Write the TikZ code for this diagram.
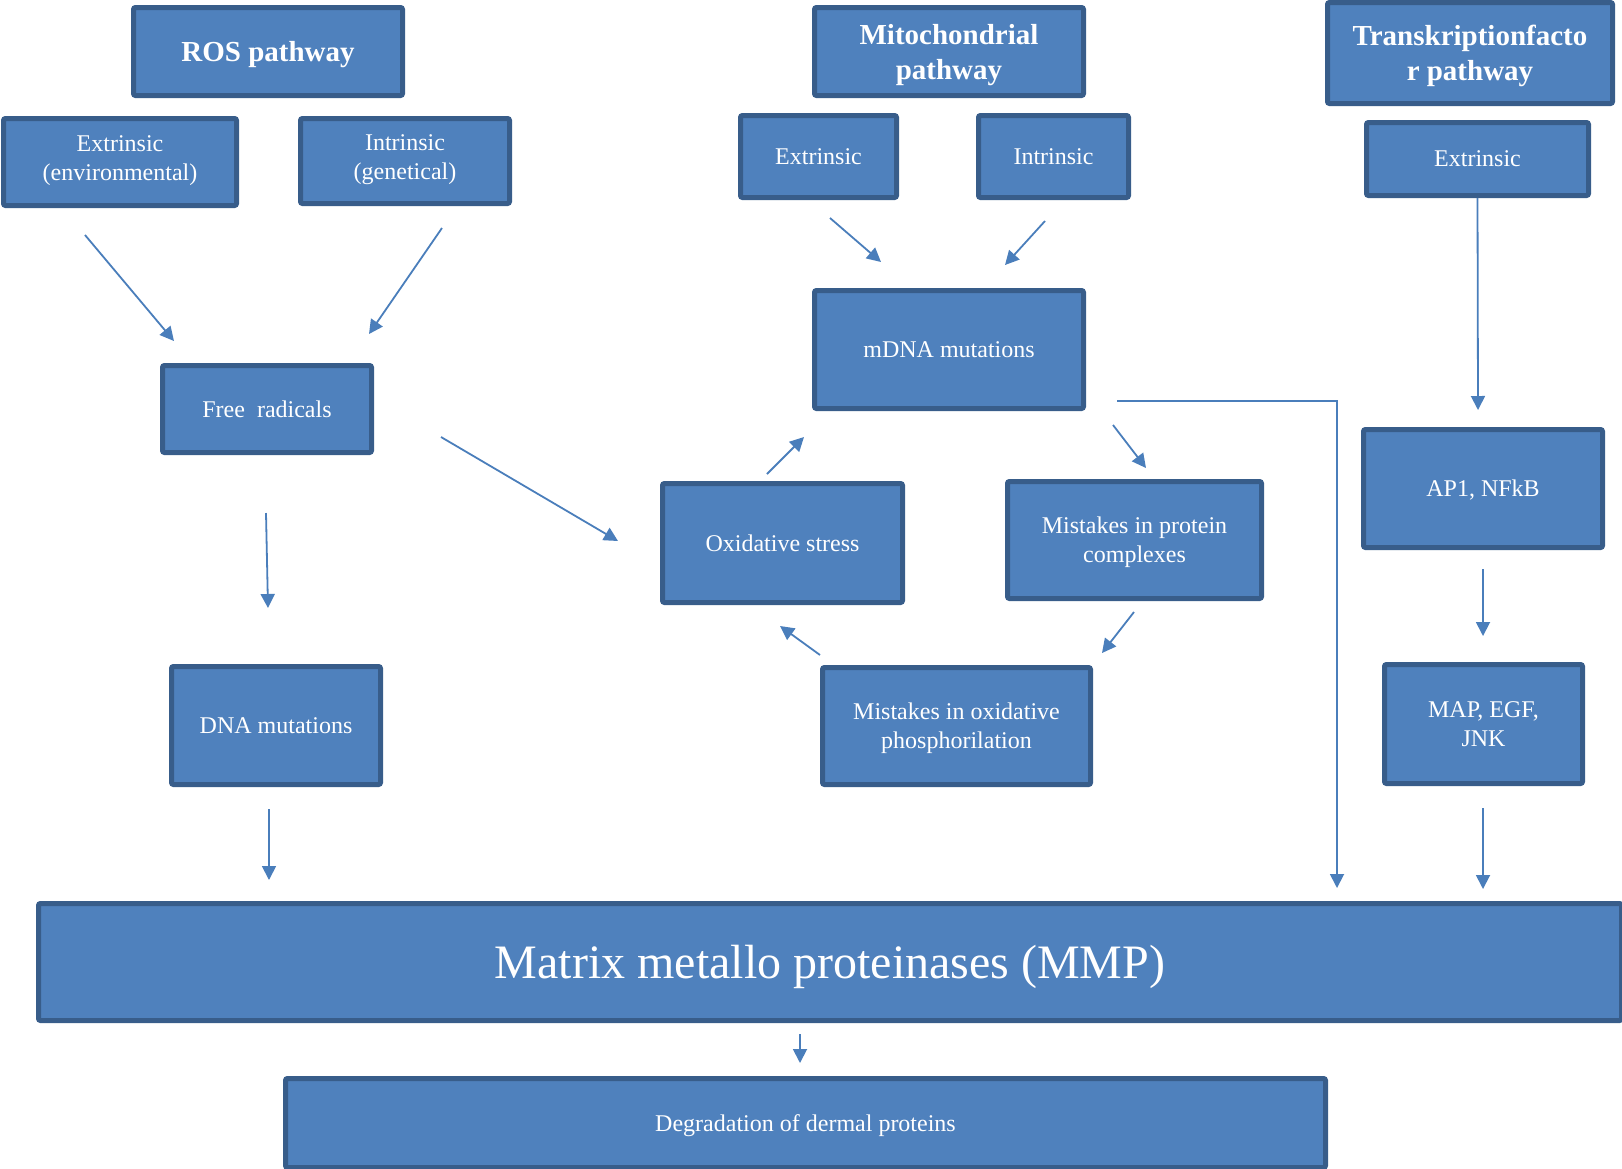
\documentclass[tikz,border=0pt]{standalone}
\usepackage{fontspec}
\setmainfont{Liberation Serif}
\usetikzlibrary{arrows.meta}
\definecolor{boxfill}{HTML}{4F81BD}
\definecolor{boxline}{HTML}{385D8A}
\definecolor{arrc}{HTML}{4A7EBB}
\tikzset{
  pbox/.style={draw=boxline, fill=boxfill, line width=2.5pt, rounded corners=1pt,
    text=white, inner sep=0pt, align=center, text depth=0pt, font=\fontsize{12}{14.5}\selectfont},
  headbox/.style={pbox, font=\fontsize{14.5}{17.5}\selectfont\bfseries},
  arr/.style={draw=arrc, line width=0.9pt, -{Triangle[length=7pt,width=7pt]}}
}
\begin{document}
\begin{tikzpicture}[x=0.5pt, y=-0.5pt]
\useasboundingbox (0,0) rectangle (1622,1168);
\clip (0,0) rectangle (1622,1168);
% headings
\node[headbox, minimum width=134.5pt, minimum height=44pt] (ros) at (268,51.5) {ROS pathway};
\node[headbox, minimum width=134.5pt, minimum height=44pt] (mito) at (949,51.5) {Mitochondrial\\pathway};
\node[headbox, minimum width=142.5pt, minimum height=50.5pt] (tf) at (1470,53) {Transkriptionfacto\\r pathway};
% second row
\node[pbox, text depth=4pt, minimum width=116.5pt, minimum height=43.5pt] (extenv) at (120,162) {Extrinsic\\(environmental)};
\node[pbox, text depth=4pt, minimum width=104.5pt, minimum height=42.5pt] (intgen) at (405,161) {Intrinsic\\(genetical)};
\node[pbox, minimum width=78pt, minimum height=41pt] (extm) at (818.5,156.5) {Extrinsic};
\node[pbox, minimum width=75pt, minimum height=41pt] (intm) at (1053.5,156.5) {Intrinsic};
\node[pbox, minimum width=111pt, minimum height=36.5pt] (exttf) at (1477.5,159) {Extrinsic};
% middle
\node[pbox, minimum width=134.5pt, minimum height=59pt] (mdna) at (949,349.5) {mDNA mutations};
\node[pbox, minimum width=104.5pt, minimum height=43.5pt] (free) at (267,409) {Free\ \ radicals};
\node[pbox, minimum width=120pt, minimum height=59.5pt] (oxs) at (782.5,543) {Oxidative stress};
\node[pbox, minimum width=127pt, minimum height=58.5pt] (mprot) at (1134.5,540) {Mistakes in protein\\complexes};
\node[pbox, minimum width=119.5pt, minimum height=59pt] (ap1) at (1483,488.5) {AP1, NFkB};
\node[pbox, minimum width=104.5pt, minimum height=59pt] (dnamut) at (276,725.5) {DNA mutations};
\node[pbox, minimum width=134pt, minimum height=58.5pt] (mox) at (956.5,726) {Mistakes in oxidative\\phosphorilation};
\node[pbox, minimum width=99pt, minimum height=59.5pt] (map) at (1483.5,724) {MAP, EGF,\\JNK};
% bottom
\node[pbox, minimum width=791.5pt, minimum height=58.5pt, font=\fontsize{24}{28}\selectfont] (mmp) at (830,962) {Matrix metallo proteinases (MMP)};
\node[pbox, minimum width=520pt, minimum height=44.5pt] (degr) at (805.5,1123) {Degradation of dermal proteins};
% arrow end points
\coordinate (a1s) at (85,235);   \coordinate (a1e) at (174,341);
\coordinate (a2s) at (442,228);  \coordinate (a2e) at (369,334);
\coordinate (a3s) at (830,218);  \coordinate (a3e) at (881,262);
\coordinate (a4s) at (1045,221); \coordinate (a4e) at (1005,265);
\coordinate (a5e) at (1478,410);
\coordinate (a6s) at (1117,401); \coordinate (a6m) at (1337,401); \coordinate (a6e) at (1337,888);
\coordinate (a7s) at (1113,425); \coordinate (a7e) at (1146,468);
\coordinate (a8s) at (767,474);  \coordinate (a8e) at (804,437);
\coordinate (a9s) at (441,437);  \coordinate (a9e) at (618,541);
\coordinate (a10s) at (266,513); \coordinate (a10e) at (268,608);
\coordinate (a11s) at (1134,612); \coordinate (a11e) at (1102,653);
\coordinate (a12s) at (820,655); \coordinate (a12e) at (780,626);
\coordinate (a13s) at (1483,569); \coordinate (a13e) at (1483,636);
\coordinate (a14s) at (269,809); \coordinate (a14e) at (269,880);
\coordinate (a15s) at (1483,808); \coordinate (a15e) at (1483,889);
\coordinate (a16s) at (800,1034); \coordinate (a16e) at (800,1063);
% arrows
\draw[arr] (a1s) -- (a1e);
\draw[arr] (a2s) -- (a2e);
\draw[arr] (a3s) -- (a3e);
\draw[arr] (a4s) -- (a4e);
\draw[arr] (exttf.south) -- (a5e);
\draw[arr] (a6s) -- (a6m) -- (a6e);
\draw[arr] (a7s) -- (a7e);
\draw[arr] (a8s) -- (a8e);
\draw[arr] (a9s) -- (a9e);
\draw[arr] (a10s) -- (a10e);
\draw[arr] (a11s) -- (a11e);
\draw[arr] (a12s) -- (a12e);
\draw[arr] (a13s) -- (a13e);
\draw[arr] (a14s) -- (a14e);
\draw[arr] (a15s) -- (a15e);
\draw[arr] (a16s) -- (a16e);
\end{tikzpicture}
\end{document}
